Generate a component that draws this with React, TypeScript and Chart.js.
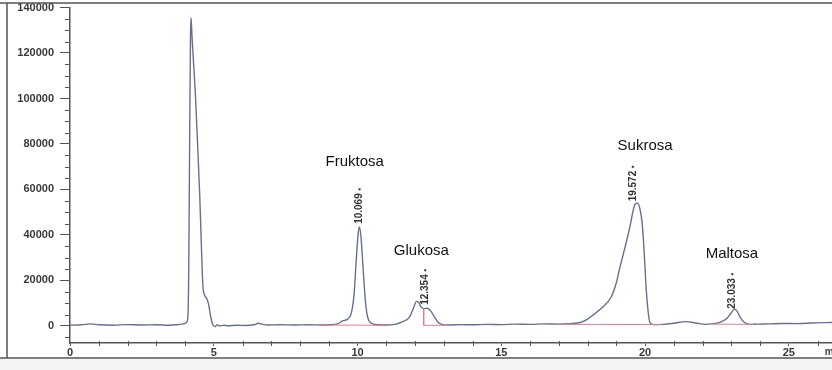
import React, { useEffect, useRef } from "react";
import { Chart, registerables } from "chart.js";

Chart.register(...registerables);

// Retention time (min)
const times = [
  0, 0.4, 0.7, 1.0, 1.5, 2.0, 2.5, 3.0, 3.4, 3.7, 3.95, 4.05, 4.1, 4.13, 4.16, 4.19, 4.21, 4.24, 4.3, 4.36,
  4.43, 4.51, 4.57, 4.62, 4.68, 4.76, 4.82, 4.88, 4.93, 4.98, 5.05, 5.12, 5.2, 5.35, 5.5, 5.8, 6.1, 6.4, 6.55, 6.7,
  6.9, 7.3, 7.8, 8.3, 8.75, 9.0, 9.3, 9.48, 9.65, 9.78, 9.88, 9.95, 10.02, 10.07, 10.12, 10.2, 10.28, 10.36, 10.47, 10.7,
  11.0, 11.3, 11.57, 11.8, 11.95, 12.05, 12.12, 12.2, 12.3, 12.42, 12.55, 12.68, 12.8, 12.95, 13.2, 13.6, 14.0, 14.5, 15.0, 15.5,
  16.0, 16.5, 17.0, 17.4, 17.74, 18.0, 18.22, 18.5, 18.82, 19.0, 19.11, 19.25, 19.35, 19.48, 19.58, 19.65, 19.74, 19.82, 19.9, 19.97,
  20.03, 20.1, 20.17, 20.3, 20.6, 21.0, 21.4, 21.8, 22.1, 22.3, 22.6, 22.85, 23.0, 23.1, 23.2, 23.32, 23.45, 23.65, 23.9, 24.3,
  24.8, 25.3, 25.8, 26.5,
];

// Detector signal
const signal = [
  300, 500, 900, 500, 300, 600, 400, 500, 300, 500, 900, 1500, 4000, 25000, 80000, 127000, 135500, 128000, 115000, 102000,
  82000, 58000, 35000, 18000, 13500, 12000, 9500, 5000, 2000, 200, -300, 600, 0, 300, 100, 300, 200, 500, 1200, 700,
  400, 500, 400, 500, 400, 500, 900, 2200, 3000, 5500, 14000, 28000, 40500, 43500, 39000, 24000, 10000, 3500, 1300, 500,
  400, 700, 1900, 3800, 8000, 10800, 10500, 8500, 7600, 7800, 6500, 3800, 1600, 600, 400, 600, 500, 700, 600, 800,
  700, 900, 800, 1000, 1500, 3000, 5100, 8000, 12700, 19000, 25000, 32000, 37000, 44000, 50500, 53500, 54000, 51500, 45000, 32000,
  18000, 7000, 1500, 600, 700, 1200, 1900, 1200, 700, 900, 1600, 3400, 5800, 7400, 6500, 3500, 1600, 700, 800, 900,
  1100, 1000, 1300, 1500,
];

// Integration baselines (null separates segments)
const integTimes = [8.75, 11.1, null, 12.3, 12.3, 13.05, null, 17.05, 20.6, null, 22.3, 23.8];
const integValues = [400, 300, null, 7600, 300, 300, null, 700, 600, null, 800, 700];

const compoundNames = ["Fruktosa", "Glukosa", "Sukrosa", "Maltosa"];
const compoundNameTimes = [9.9, 12.22, 20.0, 23.02];
const compoundNameValues = [72000, 33000, 79100, 31800];

const retentionLabels = ["10.069", "12.354", "19.572", "23.033"];
const retentionTimes = [10.069, 12.354, 19.572, 23.033];
const retentionValues = [51600, 16000, 61500, 14300];

const xTickValues = [0, 5, 10, 15, 20, 25];
const yTickValues = [0, 20000, 40000, 60000, 80000, 100000, 120000, 140000];

const decorPlugin = {
  id: "decor",
  beforeDraw(chart: any) {
    const { ctx, width, height } = chart;
    ctx.save();
    ctx.fillStyle = "#ffffff";
    ctx.fillRect(0, 0, width, height);
    ctx.fillStyle = "#f3f3f3";
    ctx.fillRect(0, 359, width, height - 359);
    ctx.restore();
  },
  afterDraw(chart: any) {
    const { ctx, width } = chart;
    const x = chart.scales.x;
    const y = chart.scales.y;
    ctx.save();
    // minor ticks
    ctx.strokeStyle = "#555";
    ctx.lineWidth = 1;
    ctx.beginPath();
    for (let v = -5000; v <= 140000; v += 5000) {
      if (v % 20000 === 0) continue;
      const py = Math.round(y.getPixelForValue(v)) + 0.5;
      ctx.moveTo(x.left - 5, py);
      ctx.lineTo(x.left, py);
    }
    for (let t = 1; t <= 26; t++) {
      if (t % 5 === 0) continue;
      const px = Math.round(x.getPixelForValue(t)) + 0.5;
      ctx.moveTo(px, y.bottom - 2);
      ctx.lineTo(px, y.bottom + 3);
    }
    ctx.stroke();

    // frame
    ctx.strokeStyle = "#555";
    ctx.lineWidth = 1.5;
    ctx.beginPath();
    ctx.moveTo(0, 3);
    ctx.lineTo(width, 3);
    ctx.moveTo(7, 3);
    ctx.lineTo(7, 358);
    ctx.moveTo(0, 358);
    ctx.lineTo(width, 358);
    ctx.stroke();

    // axis unit (cut off)
    ctx.fillStyle = "#444";
    ctx.font = "bold 10px 'Liberation Sans', Arial, sans-serif";
    ctx.textAlign = "left";
    ctx.textBaseline = "middle";
    ctx.fillText("min", x.getPixelForValue(26.25), y.bottom + 9);

    // compound names
    ctx.fillStyle = "#111";
    ctx.font = "15px 'Liberation Sans', Arial, sans-serif";
    ctx.textAlign = "center";
    ctx.textBaseline = "middle";
    compoundNames.forEach((n, i) => {
      ctx.fillText(n, x.getPixelForValue(compoundNameTimes[i]), y.getPixelForValue(compoundNameValues[i]));
    });

    // rotated retention labels
    ctx.fillStyle = "#333";
    ctx.font = "bold 10px 'Liberation Sans', Arial, sans-serif";
    retentionLabels.forEach((lab, i) => {
      const px = x.getPixelForValue(retentionTimes[i]);
      const py = y.getPixelForValue(retentionValues[i]);
      ctx.save();
      ctx.translate(px, py);
      ctx.rotate(-Math.PI / 2);
      ctx.textAlign = "center";
      ctx.textBaseline = "middle";
      ctx.fillText(lab, 0, 0);
      const w = ctx.measureText(lab).width;
      ctx.fillRect(w / 2 + 3, -1, 2, 2);
      ctx.restore();
    });
    ctx.restore();
  },
};

export default function App() {
  const ref = useRef<HTMLCanvasElement>(null);

  useEffect(() => {
    const canvas = ref.current;
    if (!canvas) return;
    const mainData = times.map((t, i) => ({ x: t, y: signal[i] }));
    const integData = integTimes.map((t, i) => ({ x: t, y: integValues[i] }));
    const chart = new Chart(canvas, {
      type: "line",
      data: {
        datasets: [
          {
            data: integData as any,
            borderColor: "#e07c92",
            borderWidth: 1,
            pointRadius: 0,
            spanGaps: false,
            tension: 0,
          },
          {
            data: mainData,
            borderColor: "#666f90",
            borderWidth: 1.4,
            pointRadius: 0,
            cubicInterpolationMode: "monotone",
          },
        ],
      },
      options: {
        responsive: false,
        animation: false,
        events: [],
        layout: { padding: { top: 7.5, left: 0, right: 0, bottom: 0 } },
        plugins: { legend: { display: false }, tooltip: { enabled: false } },
        scales: {
          x: {
            type: "linear",
            min: 0,
            max: 26.5,
            afterBuildTicks: (s: any) => {
              s.ticks = xTickValues.map((v) => ({ value: v }));
            },
            afterFit: (s: any) => {
              s.height = 27;
              s.paddingLeft = 0;
              s.paddingRight = 0;
            },
            ticks: {
              color: "#3a3a3a",
              font: { size: 11, family: "'Liberation Sans', Arial, sans-serif", weight: "bold" },
              padding: 0,
              maxRotation: 0,
              callback: (v: any) => String(v),
            },
            grid: { drawOnChartArea: false, drawTicks: true, tickLength: 3, color: "#555" },
            border: { display: true, color: "#555", width: 1.5 },
          },
          y: {
            type: "linear",
            min: -7500,
            max: 140000,
            afterBuildTicks: (s: any) => {
              s.ticks = yTickValues.map((v) => ({ value: v }));
            },
            afterFit: (s: any) => {
              s.width = 70;
              s.paddingTop = 0;
              s.paddingBottom = 0;
            },
            ticks: {
              color: "#3a3a3a",
              font: { size: 11, family: "'Liberation Sans', Arial, sans-serif", weight: "bold" },
              padding: 6,
              callback: (v: any) => String(v),
            },
            grid: { drawOnChartArea: false, drawTicks: true, tickLength: 10, color: "#555" },
            border: { display: true, color: "#555", width: 1.5 },
          },
        },
      },
      plugins: [decorPlugin],
    });
    return () => chart.destroy();
  }, []);

  return (
    <canvas
      ref={ref}
      width={832}
      height={370}
      style={{ position: "fixed", left: 0, top: 0, width: 832, height: 370 }}
    />
  );
}
